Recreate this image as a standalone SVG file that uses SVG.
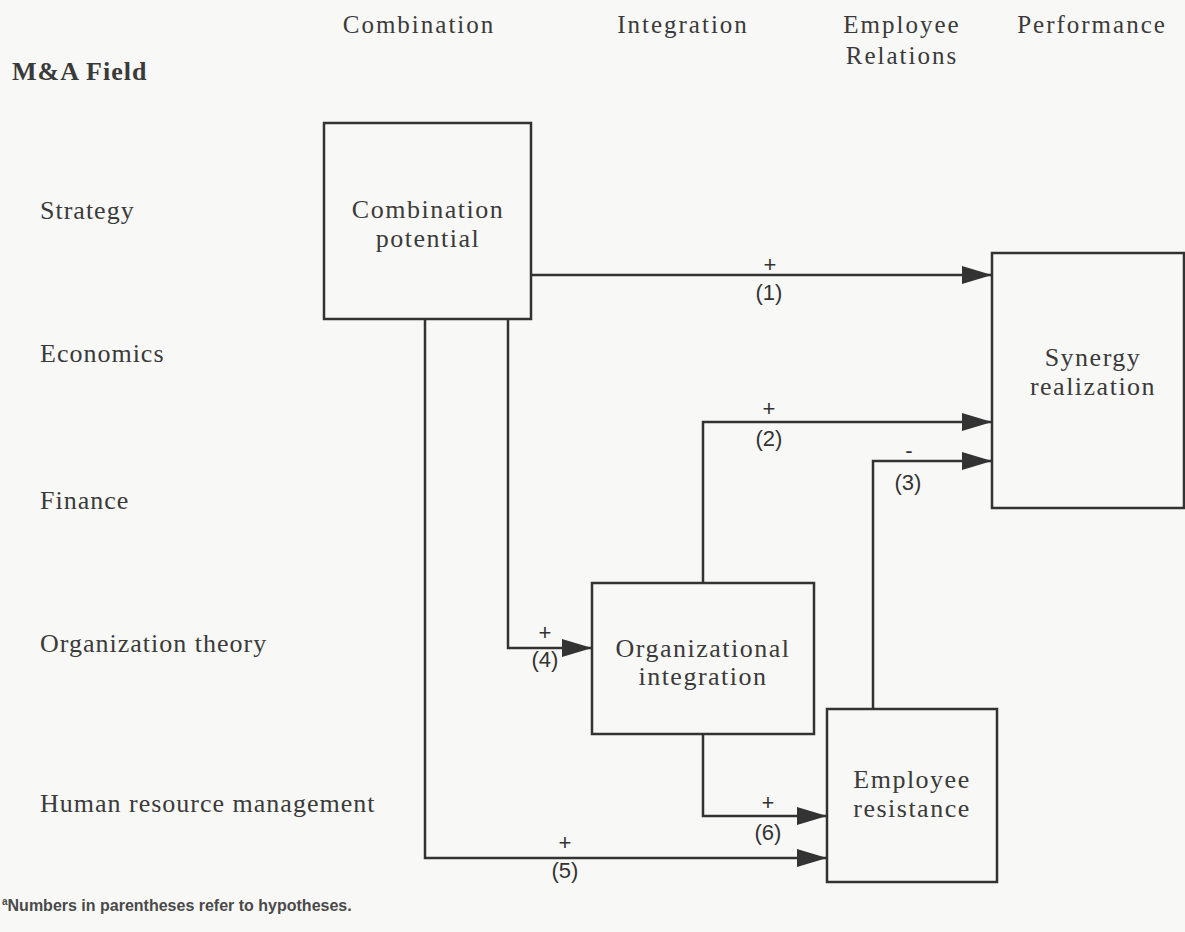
<svg xmlns="http://www.w3.org/2000/svg" width="1185" height="932" viewBox="0 0 1185 932">
<style>
.bg{fill:#f8f8f6}
.box{fill:none;stroke:#333;stroke-width:2.5}
.ser{font-family:"Liberation Serif","DejaVu Serif",serif;font-size:26px;fill:#3a3a3a;letter-spacing:1px}
.hd{font-family:"Liberation Serif","DejaVu Serif",serif;font-size:25px;fill:#3a3a3a;text-anchor:middle;letter-spacing:2px}
.bx{font-family:"Liberation Serif","DejaVu Serif",serif;font-size:26px;fill:#3a3a3a;text-anchor:middle;letter-spacing:1.5px}
.lb{font-family:"Liberation Sans",Arial,sans-serif;font-size:22px;fill:#333;text-anchor:middle}
.pl{font-family:"Liberation Sans",Arial,sans-serif;font-size:22px;fill:#333;text-anchor:middle}
.con{fill:none;stroke:#333;stroke-width:2.5}
.fn{font-family:"Liberation Sans",Arial,sans-serif;font-size:16px;font-weight:bold;fill:#4a4a4a}
</style>
<defs>
<marker id="ah" markerUnits="userSpaceOnUse" markerWidth="30" markerHeight="18" refX="30" refY="9" orient="auto">
<path d="M0,0 L30,9 L0,18 Z" fill="#333"/>
</marker>
</defs>
<rect class="bg" x="0" y="0" width="1185" height="932"/>
<g id="headers">
<text class="hd" x="419" y="33">Combination</text>
<text class="hd" x="683" y="33">Integration</text>
<text class="hd" x="902" y="33">Employee</text>
<text class="hd" x="902" y="64">Relations</text>
<text class="hd" x="1092" y="33">Performance</text>
</g>
<g id="fields">
<text class="ser" x="12" y="80" font-weight="bold" font-size="27" letter-spacing="2">M&amp;A Field</text>
<text class="ser" x="40" y="219">Strategy</text>
<text class="ser" x="40" y="362">Economics</text>
<text class="ser" x="40" y="509">Finance</text>
<text class="ser" x="40" y="652">Organization theory</text>
<text class="ser" x="40" y="812">Human resource management</text>
</g>
<g id="connectors">
<path class="con" d="M531,275 H992" marker-end="url(#ah)"/>
<path class="con" d="M703,583 V422 H992" marker-end="url(#ah)"/>
<path class="con" d="M873,709 V461 H992" marker-end="url(#ah)"/>
<path class="con" d="M508,319 V648 H592" marker-end="url(#ah)"/>
<path class="con" d="M425,319 V858 H827" marker-end="url(#ah)"/>
<path class="con" d="M703,734 V816 H827" marker-end="url(#ah)"/>
<text class="pl" x="770" y="272">+</text>
<text class="lb" x="769" y="300">(1)</text>
<text class="pl" x="769" y="416">+</text>
<text class="lb" x="769" y="446">(2)</text>
<text class="pl" x="909" y="458">-</text>
<text class="lb" x="908" y="490">(3)</text>
<text class="pl" x="545" y="640">+</text>
<text class="lb" x="545" y="667">(4)</text>
<text class="pl" x="565" y="850">+</text>
<text class="lb" x="565" y="878">(5)</text>
<text class="pl" x="768" y="810">+</text>
<text class="lb" x="768" y="840">(6)</text>
</g>
<g id="combination-potential">
<rect class="box" x="324" y="123" width="207" height="196"/>
<text class="bx" x="428" y="218">Combination</text>
<text class="bx" x="428" y="247">potential</text>
</g>
<g id="synergy-realization">
<rect class="box" x="992" y="253" width="192" height="255"/>
<text class="bx" x="1093" y="366">Synergy</text>
<text class="bx" x="1093" y="395">realization</text>
</g>
<g id="organizational-integration">
<rect class="box" x="592" y="583" width="222" height="151"/>
<text class="bx" x="703" y="657">Organizational</text>
<text class="bx" x="703" y="685">integration</text>
</g>
<g id="employee-resistance">
<rect class="box" x="827" y="709" width="170" height="173"/>
<text class="bx" x="912" y="788">Employee</text>
<text class="bx" x="912" y="817">resistance</text>
</g>
<g id="footnote">
<text class="fn" x="2" y="911"><tspan font-size="10" dy="-6">a</tspan><tspan dy="6">Numbers in parentheses refer to hypotheses.</tspan></text>
</g>
</svg>
